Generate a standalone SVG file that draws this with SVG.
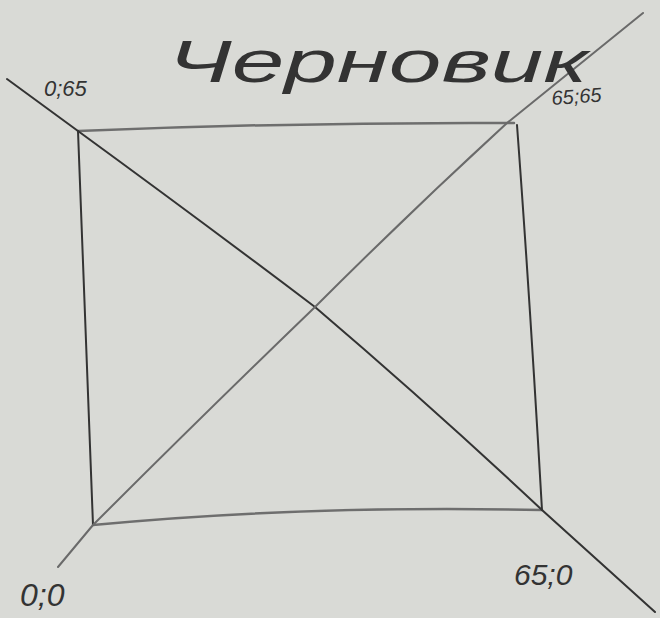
<svg xmlns="http://www.w3.org/2000/svg" width="660" height="618" viewBox="0 0 660 618">
<style>
.lbl{font-family:"Liberation Sans",Arial,sans-serif;fill:#333333}
.dark{stroke:#333333;stroke-width:2;fill:none;stroke-linecap:round;stroke-linejoin:round}
.mid{stroke:#6e6e6e;stroke-width:2.5;fill:none;stroke-linecap:round}
.light{stroke:#6a6a6a;stroke-width:2;fill:none;stroke-linecap:round;stroke-linejoin:round}
</style>
<rect width="660" height="618" fill="#d9dad6"/>
<g id="connectors">
<path class="mid" d="M78,131 Q300,122 514,123"/>
<path class="mid" d="M93,525 Q300,505 542,510"/>
<path class="dark" d="M78,131 L93,525"/>
<path class="dark" d="M517,125 Q530,300 542,510"/>
<path class="dark" d="M7,79 L78,131 Q200,220 315,307 Q430,405 542,510 L655,612"/>
<path class="light" d="M58,567 L93,525 Q200,418 315,307 Q410,212 507,123 L643,13"/>
</g>
<g id="title"><text class="lbl" x="168" y="82" font-size="60" textLength="420" lengthAdjust="spacingAndGlyphs" font-style="italic">Черновик</text></g>
<g id="p065"><text class="lbl" x="44" y="96" font-size="22" font-style="italic">0;65</text></g>
<g id="p6565"><text class="lbl" x="552" y="105" font-size="20" font-style="italic" transform="rotate(-4 552 105)">65;65</text></g>
<g id="p00"><text class="lbl" x="20" y="606" font-size="32" font-style="italic">0;0</text></g>
<g id="p650"><text class="lbl" x="514" y="585" font-size="30" font-style="italic">65;0</text></g>
</svg>
